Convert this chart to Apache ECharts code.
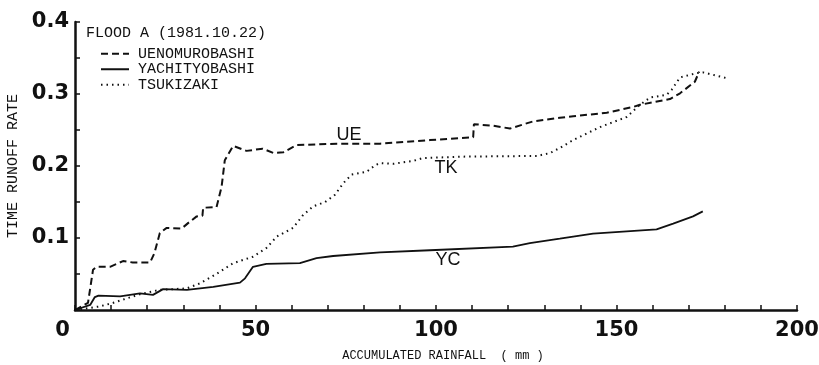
<!DOCTYPE html>
<html>
<head>
<meta charset="utf-8">
<script src="https://cdn.jsdelivr.net/npm/echarts@6/dist/echarts.min.js"></script>
<style>
  html, body { margin: 0; padding: 0; background: #fff; }
  #chart { width: 819px; height: 365px; }
</style>
</head>
<body>
<div id="chart"></div>
<script>
// Flood A (1981.10.22): time runoff rate against accumulated rainfall
const ueRain = [0, 3.6, 5, 6, 9.7, 13.3, 16, 20.8, 22, 23.5, 25.4, 29.5, 31.4, 33.7, 35.3, 35.5, 39.2, 40.6, 41.5, 43.8, 47.5, 52, 55, 57.7, 61.4, 72.5, 84.5, 98.3, 110.3, 110.5, 115.8, 120.5, 126.9, 134.3, 138, 147.3, 154.6, 156.5, 164.8, 167.6, 171.7, 172.9];
const ueRate = [0, 0.01, 0.056, 0.06, 0.06, 0.068, 0.066, 0.066, 0.079, 0.107, 0.114, 0.113, 0.121, 0.130, 0.131, 0.142, 0.143, 0.171, 0.208, 0.228, 0.221, 0.224, 0.218, 0.219, 0.229, 0.231, 0.231, 0.236, 0.240, 0.258, 0.256, 0.252, 0.262, 0.267, 0.269, 0.274, 0.282, 0.285, 0.293, 0.301, 0.317, 0.331];

const ycRain = [0, 4.2, 5.5, 6.5, 12.5, 18, 21.6, 24.4, 31, 38.3, 45.7, 47.1, 49.3, 53, 62.3, 66.9, 71.5, 84.5, 98.3, 121.3, 126, 134.3, 138, 143.5, 161.1, 165.7, 171.2, 173.9];
const ycRate = [0, 0.007, 0.018, 0.020, 0.019, 0.023, 0.021, 0.029, 0.028, 0.032, 0.038, 0.044, 0.060, 0.064, 0.065, 0.072, 0.075, 0.080, 0.083, 0.088, 0.093, 0.099, 0.102, 0.106, 0.112, 0.120, 0.130, 0.137];

const tkRain = [0, 6.9, 10.6, 18, 23.5, 31, 34.6, 39.2, 43.8, 49.3, 53, 55.9, 60.4, 63.2, 66, 69.3, 72, 74.3, 76.6, 80.8, 83.1, 84.5, 88.1, 93.6, 96.4, 107.5, 128, 131.6, 134.3, 138, 145.4, 152.8, 156.5, 159.3, 163.9, 165.3, 167.6, 172.2, 174, 180.5];
const tkRate = [0, 0.005, 0.01, 0.022, 0.028, 0.030, 0.037, 0.050, 0.065, 0.074, 0.086, 0.102, 0.114, 0.132, 0.144, 0.150, 0.160, 0.176, 0.188, 0.192, 0.201, 0.204, 0.203, 0.207, 0.211, 0.213, 0.214, 0.218, 0.225, 0.236, 0.254, 0.268, 0.285, 0.295, 0.299, 0.306, 0.323, 0.329, 0.330, 0.322];

const stationNames = ['UENOMUROBASHI', 'YACHITYOBASHI', 'TSUKIZAKI'];
// short tags written beside each curve: [tag, rainfall, rate]
const curveTags = [['UE', 75.9, 0.243], ['YC', 103.3, 0.069], ['TK', 102.8, 0.197]];

const xTickLabels = [0, 50, 100, 150, 200];
const yTickLabels = [0.1, 0.2, 0.3, 0.4];

const ink = '#111';
const zip = (xs, ys) => xs.map((x, i) => [x, ys[i]]);

function tagMark(tag) {
  return {
    symbol: 'circle',
    symbolSize: 0,
    silent: true,
    label: {
      show: true, position: 'inside', formatter: tag[0],
      color: ink, fontFamily: 'Liberation Sans', fontSize: 18
    },
    data: [{ coord: [tag[1], tag[2]] }]
  };
}

const chart = echarts.init(document.getElementById('chart'), null, { renderer: 'canvas' });

chart.setOption({
  animation: false,
  backgroundColor: '#fff',
  title: {
    text: 'FLOOD A (1981.10.22)',
    left: 86, top: 26, padding: 0,
    textStyle: { fontFamily: 'Liberation Mono', fontSize: 15, fontWeight: 'normal', color: ink }
  },
  legend: {
    data: stationNames,
    orient: 'vertical',
    left: 100, top: 46, padding: 0,
    itemWidth: 28, itemHeight: 10, itemGap: 0,
    icon: 'inherit',
    itemStyle: { opacity: 0 },
    textStyle: { fontFamily: 'Liberation Mono', fontSize: 15, lineHeight: 15.5, color: ink, padding: [0, 0, 0, 4] },
    selectedMode: false
  },
  grid: { left: 75, right: 22, top: 22, bottom: 55, outerBoundsMode: 'none' },
  xAxis: {
    type: 'value', min: 0, max: 200, interval: 10,
    name: 'ACCUMULATED RAINFALL  ( mm )',
    nameLocation: 'middle', nameGap: 40,
    nameTextStyle: { fontFamily: 'Liberation Mono', fontSize: 12, color: ink, padding: [0, 0, 0, 14] },
    axisLine: { lineStyle: { color: ink, width: 2.5 } },
    axisTick: { inside: true, length: 5, lineStyle: { color: ink, width: 1.5 } },
    splitLine: { show: false },
    axisLabel: {
      margin: 10,
      color: ink, fontFamily: 'DejaVu Sans', fontWeight: 'bold', fontSize: 21,
      formatter: v => {
        if (!xTickLabels.includes(v)) return '';
        return v === 0 ? '{z|0}' : String(v);
      },
      rich: {
        z: { fontFamily: 'DejaVu Sans', fontWeight: 'bold', fontSize: 21, color: ink, padding: [0, 25, 0, 0] }
      }
    }
  },
  yAxis: {
    type: 'value', min: 0, max: 0.4, interval: 0.05,
    name: 'TIME RUNOFF RATE',
    nameLocation: 'middle', nameGap: 52, nameRotate: 90,
    nameTextStyle: { fontFamily: 'Liberation Mono', fontSize: 15, color: ink },
    axisLine: { show: true, lineStyle: { color: ink, width: 2.5 } },
    axisTick: { show: true, inside: true, length: 5, lineStyle: { color: ink, width: 1.5 } },
    splitLine: { show: false },
    axisLabel: {
      margin: 6,
      color: ink, fontFamily: 'DejaVu Sans', fontWeight: 'bold', fontSize: 21,
      formatter: v => {
        const hit = yTickLabels.find(t => Math.abs(t - v) < 1e-6);
        return hit === undefined ? '' : hit.toFixed(1);
      }
    }
  },
  series: [
    {
      name: stationNames[0], type: 'line', symbol: 'none',
      data: zip(ueRain, ueRate),
      lineStyle: { color: ink, width: 2, type: [7, 4] },
      markPoint: tagMark(curveTags[0])
    },
    {
      name: stationNames[1], type: 'line', symbol: 'none',
      data: zip(ycRain, ycRate),
      lineStyle: { color: ink, width: 1.8, type: 'solid' },
      markPoint: tagMark(curveTags[1])
    },
    {
      name: stationNames[2], type: 'line', symbol: 'none',
      data: zip(tkRain, tkRate),
      lineStyle: { color: ink, width: 2, type: [1.5, 4] },
      markPoint: tagMark(curveTags[2])
    }
  ]
});
</script>
</body>
</html>
